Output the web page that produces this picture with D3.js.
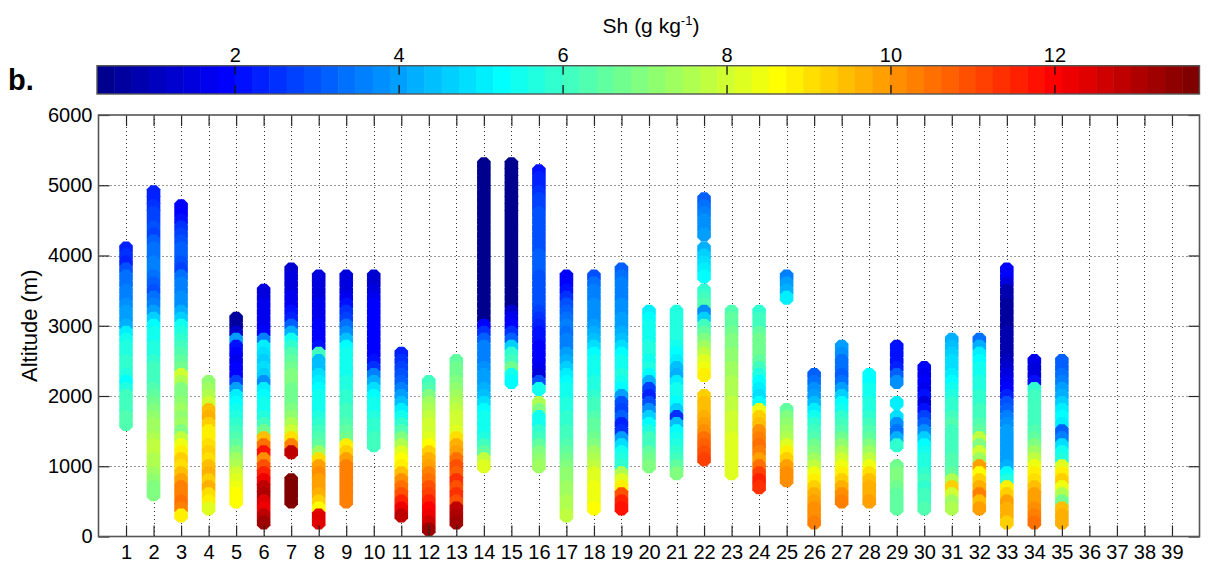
<!DOCTYPE html>
<html>
<head>
<meta charset="utf-8">
<script src="https://d3js.org/d3.v7.min.js"></script>
<style>
	body { margin: 0; background: #fff; }
	svg text { font-family: Arial, "Liberation Sans", Helvetica, sans-serif; fill: #000; }
</style>
</head>
<body>
<svg id="chart" width="1216" height="564"></svg>
<script>
// profile numbers on the x axis and the top level of each sounding (m)
var profileIds = d3.range(1, 36);
var profileTops = [4100, 4900, 4700, 2200, 3100, 3500, 3800, 3700, 3700, 3700,
	2600, 2200, 2500, 5300, 5300, 5200, 3700, 3700, 3800, 3200,
	3200, 4800, 3200, 3200, 3700, 2300, 2700, 2300, 2700, 2400,
	2800, 2800, 3800, 2500, 2500];
var levelStep = 100; // m between sounding levels, top -> bottom

// specific humidity (g/kg) per profile, from top level downwards, null = no data
var shProfiles = [
	[2.4, 2.5,
	 2.4, 3.0, 3.3, 3.4, 3.5, 3.6, 3.7, 3.9, 4.1, 4.3,
	 5.0, 5.5, 5.6, 5.7, 5.8, 5.8, 5.6, 5.3, 5.7, 6.0,
	 6.1, 6.2, 6.3, 6.3],
	[2.3, 2.4, 2.5, 2.7, 2.8, 2.9, 2.8, 3.2, 3.3, 3.4,
	 3.5, 3.6, 3.4, 3.2, 2.9, 3.3, 3.6, 3.9, 4.6, 5.2,
	 5.4, 5.5, 5.6, 5.7, 5.9, 6.0, 6.1, 6.2, 6.3, 6.5,
	 6.8, 7.0, 7.2, 7.3, 7.4, 7.6, 7.7, 7.7, 7.6, 7.5,
	 7.3, 7.1, 7.0, 6.9],
	[1.9, 1.8, 2.1, 2.5, 2.7, 2.9, 3.1, 3.2,
	 3.0, 2.7, 3.3, 3.5, 3.6, 3.7, 3.8, 4.2, 4.6, 5.4,
	 5.7, 5.9, 6.0, 6.3, 6.5, 6.8, 7.9, 7.6, 7.0, 6.9,
	 7.2, 7.4, 7.1, 7.4, 6.9, 7.7, 8.5, 8.8, 9.3, 9.0,
	 9.5, 9.8, 10.2, 10.4, 10.5, 10.4, 8.8],
	[7.2, 7.4, 7.6,
	 8.0, 9.4, 9.6, 9.2, 8.9, 8.8, 9.0, 9.2, 9.0, 9.4,
	 9.6, 9.3, 9.6, 9.1, 8.8, 8.2],
	[0.6, 0.7,
	 1.2, 4.0, 2.2, 1.8, 1.7, 1.8, 2.0, 2.8, 4.0, 5.0,
	 5.3, 5.4, 5.6, 5.9, 6.1, 6.3, 6.6, 7.0, 7.3, 7.5,
	 8.0, 8.3, 8.5, 8.6, 8.7],
	[1.5, 1.5, 1.6, 1.6, 1.6, 1.7,
	 2.0, 3.5, 5.0, 4.8, 4.7, 4.8, 4.6, 3.8, 5.0, 5.3,
	 5.4, 5.5, 5.7, 6.2, 6.8, 9.5, 10.5, 11.8, 10.0, 11.0,
	 11.5, 12.2, 12.9, 13.1, 12.5, 12.1, 12.8, 13.2],
	[1.3, 1.4, 1.5, 1.5, 1.6, 1.7, 2.1, 2.4, 3.1,
	 4.2, 5.4, 5.9, 6.4, 6.6, 6.8, 7.0, 6.9, 6.8, 6.7,
	 6.8, 7.0, 7.2, 7.5, 8.0, 9.0, 10.2, 12.8, null, null,
	 null, 13.6, 13.7, 13.7, 13.6],
	[1.4, 1.5, 1.5, 1.5, 1.6, 1.7, 1.7, 1.8,
	 1.8, 1.9, 2.1, 6.0, 4.4, 4.5, 4.8, 5.0, 5.2, 5.4,
	 5.4, 5.5, 5.7, 5.8, 6.0, 6.3, 6.6, 7.3, 9.0, 9.8,
	 10.0, 9.9, 9.8, 9.6, 9.2, 8.7, 12.3, 12.5],
	[1.4, 1.4, 1.5, 1.6, 2.2, 2.6, 2.8, 3.3,
	 3.8, 4.4, 5.2, 5.4, 5.4, 5.5, 5.5, 5.6, 5.7, 5.8,
	 5.9, 6.0, 6.2, 6.4, 6.6, 6.8, 8.8, 9.3, 9.8, 10.2,
	 10.3, 10.4, 10.4, 10.3, 10.4],
	[1.3, 1.3, 1.4, 1.6, 1.9, 2.0, 2.0, 2.0,
	 2.0, 2.0, 2.0, 2.0, 2.1, 2.5, 3.5, 4.3, 4.8, 5.2,
	 5.4, 5.5, 5.7, 5.8, 5.9, 6.0, 6.0],
	[2.4, 2.6, 2.8, 3.0, 3.2, 3.6, 4.0,
	 4.5, 5.0, 5.4, 5.8, 6.3, 7.0, 7.6, 8.2, 8.6, 8.8,
	 9.5, 10.0, 10.5, 11.0, 11.6, 12.2, 12.9],
	[6.2, 6.4, 7.0,
	 7.3, 7.6, 7.8, 7.9, 8.0, 8.2, 8.7, 9.3, 9.6, 9.8,
	 10.3, 10.6, 10.9, 11.2, 11.6, 11.9, 12.1, 12.7, 13.2],
	[6.6, 6.7, 6.8, 6.9, 7.2, 7.4,
	 7.6, 7.8, 7.9, 8.0, 8.2, 9.0, 9.6, 9.8, 10.6, 11.0,
	 10.8, 11.3, 10.9, 11.4, 11.0, 12.9, 13.1, 13.2],
	[0.5, 0.5, 0.5, 0.5,
	 0.5, 0.5, 0.5, 0.5, 0.5, 0.5, 0.5, 0.5, 0.5, 0.5,
	 0.5, 0.5, 0.5, 0.5, 0.5, 0.5, 0.5, 0.5, 0.5, 1.8,
	 2.6, 3.2, 3.5, 3.6, 3.6, 3.7, 3.9, 4.1, 4.3, 4.5,
	 4.8, 5.2, 5.4, 5.4, 5.5, 5.6, 6.2, 6.6, 7.8, 8.3],
	[0.5, 0.5, 0.5, 0.5,
	 0.5, 0.5, 0.5, 0.5, 0.5, 0.5, 0.5, 0.5, 0.5, 0.5,
	 0.5, 0.5, 0.5, 0.5, 0.5, 0.5, 0.5, 1.2, 1.6, 2.0,
	 2.6, 3.2, 4.6, 5.8, 6.0, 6.8, 5.4, 5.3],
	[2.1, 2.3, 2.4,
	 2.6, 2.7, 2.8, 2.9, 2.9, 3.0, 3.0, 3.0, 3.0, 3.1,
	 3.1, 3.1, 3.0, 3.0, 3.0, 2.9, 2.9, 2.8, 2.6, 2.4,
	 2.2, 2.1, 2.0, 2.0, 1.9, 1.6, 1.5, 3.0, 5.4, null,
	 7.6, 7.0, 5.4, 5.5, 5.8, 6.1, 6.6, 6.9, 7.2, 7.4],
	[2.0, 1.9, 2.1, 2.6, 2.9, 3.1, 3.3, 3.5,
	 3.4, 3.6, 3.5, 3.9, 4.3, 4.6, 5.0, 5.3, 5.4, 5.5,
	 5.6, 5.7, 5.8, 5.9, 6.0, 6.2, 6.4, 6.6, 6.8, 7.0,
	 7.1, 7.2, 7.3, 7.4, 7.5, 7.6, 7.7],
	[3.0, 3.4, 3.6, 3.6, 3.7, 3.7, 3.8, 3.9,
	 4.2, 4.5, 4.9, 5.3, 5.4, 5.4, 5.5, 5.6, 5.7, 5.9,
	 6.1, 6.2, 6.4, 6.5, 6.6, 6.8, 7.0, 7.3, 7.5, 7.8,
	 8.1, 8.3, 8.4, 8.5, 8.5, 8.6],
	[3.1, 3.3, 3.5, 3.6, 3.6, 3.7, 3.8, 3.9, 4.0,
	 4.2, 4.5, 4.9, 5.2, 5.4, 5.5, 5.6, 5.5, 5.3, 4.0,
	 3.0, 2.8, 3.2, 2.4, 2.6, 4.0, 4.8, 5.4, 5.6, 5.8,
	 7.6, 8.2, 8.8, 11.0, 11.5, 11.8],
	[5.0, 5.3, 5.4,
	 5.4, 5.5, 5.6, 5.6, 5.5, 5.7, 5.3, 4.2, 2.8, 2.4,
	 2.9, 3.8, 4.6, 5.3, 5.7, 6.0, 6.2, 6.5, 6.8, 7.0],
	[5.6, 5.7, 5.7,
	 5.6, 5.6, 5.5, 5.3, 5.0, 4.5, 4.2, 5.0, 5.4, 5.5,
	 5.3, 4.6, 2.6, 4.5, 5.3, 5.5, 5.7, 5.9, 6.2, 6.6,
	 6.9],
	[3.2, 3.4, 3.6, 3.7, 3.8, 4.0, null, 4.3, 4.6,
	 4.8, 5.0, 5.3, null, 5.8, 6.1, 6.3, 3.8, 4.6, 6.2,
	 6.6, 7.0, 7.4, 7.8, 8.1, 8.5, 8.8, null, null, 9.2,
	 9.4, 9.5, 9.7, 9.9, 10.1, 10.5, 10.8, 11.0, 11.1],
	[6.4, 6.5, 6.6,
	 6.7, 6.9, 7.0, 7.1, 7.2, 7.3, 7.4, 7.5, 7.6, 7.6,
	 7.7, 7.8, 7.9, 8.0, 8.0, 8.1, 8.2, 8.2, 8.3, 8.3,
	 8.3],
	[5.9, 6.0, 6.2,
	 6.5, 6.7, 6.8, 6.7, 6.5, 6.0, 5.6, 5.3, 5.0, 4.8,
	 5.2, 8.5, 9.2, 9.5, 10.0, 10.3, 10.5, 10.2, 9.8, 10.5,
	 11.2, 11.6, 11.3],
	[3.5, 3.9, 4.3, 5.0, null, null, null, null,
	 null, null, null, null, null, null, null, null, null, null,
	 null, 6.6, 6.9, 7.2, 7.4, 7.6, 8.2, 8.8, 9.2, 9.8,
	 10.0, 10.1],
	[3.2, 3.4, 3.7, 4.0,
	 4.5, 5.0, 5.5, 5.8, 6.0, 6.4, 6.7, 7.0, 7.3, 7.7,
	 8.4, 8.8, 9.3, 9.6, 9.8, 10.0, 10.1, 10.2],
	[4.0, 3.7, 3.4, 3.3, 3.2, 3.4, 4.0, 4.6,
	 5.2, 5.5, 5.8, 6.1, 6.4, 6.7, 7.2, 7.6, 8.0, 8.4,
	 8.8, 9.2, 9.6, 10.0, 10.3],
	[5.2, 5.3, 5.4, 5.5,
	 5.6, 5.7, 5.8, 6.0, 6.3, 6.6, 7.0, 7.4, 7.8, 8.5,
	 9.0, 9.4, 9.6, 9.7, 9.8],
	[2.2, 2.2, 2.1, 2.4, 3.2, 3.8, null, null,
	 5.0, null, 4.8, 3.8, 3.3, 4.2, 5.8, null, null, 6.8,
	 6.9, 7.0, 6.8, 6.6, 6.5, 6.6],
	[2.0, 1.6, 1.9, 1.7, 2.2,
	 1.5, 2.2, 2.8, 3.2, 3.8, 4.6, 5.3, 5.5, 5.6, 5.7,
	 5.9, 6.0, 5.8, 6.1, 6.2, 6.3],
	[4.3, 4.4, 4.6, 4.8, 4.9, 5.0, 5.2, 5.4, 5.6,
	 5.8, 5.9, 6.0, 6.3, 6.0, 6.1, 6.2, 6.2, 6.3, 6.4,
	 6.5, 7.5, 9.2, 8.0, 7.4, 7.6],
	[3.4, 4.3, 5.0, 5.3, 5.4, 5.5, 5.6, 5.7, 5.8,
	 5.9, 6.0, 6.1, 6.3, 6.6, 7.8, 7.0, 8.0, 7.4, 9.8,
	 8.6, 9.2, 9.6, 10.2, 9.5, 9.8],
	[2.0, 1.9, 1.5, 0.9, 0.8, 0.7, 0.7, 0.7, 0.7,
	 0.8, 0.8, 0.8, 0.9, 1.0, 1.2, 1.4, 1.6, 1.8, 2.3,
	 3.0, 3.2, 3.5, 3.8, 3.9, 4.0, 4.1, 4.0, 4.1, 4.3,
	 5.3, 5.6, 8.8, 9.3, 9.8, 9.7, 9.6, 9.3],
	[1.6, 1.5, 1.5, 2.2, 5.8, 6.0,
	 6.0, 6.1, 6.1, 6.2, 6.3, 6.6, 7.0, 7.4, 7.8, 8.5,
	 8.8, 9.0, 9.5, 9.8, 9.9, 10.1, 10.3, 10.5],
	[3.2, 3.1, 3.3, 3.6, 3.9, 4.2,
	 4.6, 5.0, 5.3, 5.0, 3.2, 3.6, 4.8, 5.4, 5.6, 8.3,
	 8.8, 9.2, 8.4, 7.5, 6.8, 9.4, 9.7, 9.6]
];

var xTicks = d3.range(1, 40);
var yTicks = [0, 1000, 2000, 3000, 4000, 5000, 6000];
var cbarTicks = [2, 4, 6, 8, 10, 12];
var cmin = 0.32, cmax = 13.77; // colour limits

// MATLAB style jet colormap with m entries
function jet(m) {
	var n = Math.ceil(m / 4), u = [], J = [], i;
	for (i = 1; i <= n; i++) u.push(i / n);
	for (i = 1; i < n; i++) u.push(1);
	for (i = n; i >= 1; i--) u.push(i / n);
	var off = Math.ceil(n / 2) - (m % 4 == 1 ? 1 : 0);
	for (i = 0; i < m; i++) J.push([0, 0, 0]);
	u.forEach(function(v, k) {
		var g = off + k + 1, r = g + n, b = g - n;
		if (r <= m) J[r - 1][0] = v;
		if (g <= m) J[g - 1][1] = v;
		if (b >= 1) J[b - 1][2] = v;
	});
	return J.map(function(d) { return d3.rgb(d[0] * 255, d[1] * 255, d[2] * 255).formatHex(); });
}

var cmap = jet(64);
var color = d3.scaleQuantize().domain([cmin, cmax]).range(cmap);

var svg = d3.select("#chart");
var pLeft = 98.5, pRight = 1199.5, pTop = 115, pBottom = 536.5;

var x = d3.scaleLinear().domain([0, 40]).range([pLeft, pRight]);
var y = d3.scaleLinear().domain([0, 6000]).range([pBottom, pTop]);
var c = d3.scaleLinear().domain([cmin, cmax]).range([97, 1199.5]);

// grid
var grid = svg.append("g")
	.attr("stroke", "#333")
	.attr("stroke-width", 1)
	.attr("stroke-dasharray", "1,3");
grid.selectAll(".gx").data(xTicks).enter().append("line")
	.attr("x1", function(d) { return Math.round(x(d)) + 0.5; })
	.attr("x2", function(d) { return Math.round(x(d)) + 0.5; })
	.attr("y1", pTop).attr("y2", pBottom);
grid.selectAll(".gy").data(yTicks.slice(1, -1)).enter().append("line")
	.attr("y1", function(d) { return Math.round(y(d)) + 0.5; })
	.attr("y2", function(d) { return Math.round(y(d)) + 0.5; })
	.attr("x1", pLeft).attr("x2", pRight);

// soundings
var points = [];
shProfiles.forEach(function(vals, i) {
	vals.forEach(function(v, k) {
		if (v === null) return;
		points.push({ id: profileIds[i], alt: profileTops[i] - k * levelStep, sh: v });
	});
});

// filled marker, an octagon so stacked levels give straight column edges
var marker = "M-2.8,-7L2.8,-7L6.8,-3L6.8,3L2.8,7L-2.8,7L-6.8,3L-6.8,-3Z";

svg.append("g").selectAll("path")
	.data(points)
	.enter().append("path")
	.attr("d", marker)
	.attr("transform", function(d) { return "translate(" + x(d.id) + "," + y(d.alt) + ")"; })
	.attr("fill", function(d) { return color(d.sh); });

// axes, ticks pointing inwards
var fs = "20px";
var gx = svg.append("g")
	.attr("transform", "translate(0," + pBottom + ")")
	.call(d3.axisBottom(x).tickValues(xTicks).tickSizeInner(-11).tickSizeOuter(0).tickPadding(8));
var gy = svg.append("g")
	.attr("transform", "translate(" + pLeft + ",0)")
	.call(d3.axisLeft(y).tickValues(yTicks).tickFormat(d3.format("d")).tickSizeInner(-11).tickSizeOuter(0).tickPadding(6));
var gt = svg.append("g")
	.attr("transform", "translate(0," + pTop + ")")
	.call(d3.axisTop(x).tickValues(xTicks).tickSizeInner(-11).tickSizeOuter(0).tickFormat(""));
var gr = svg.append("g")
	.attr("transform", "translate(" + pRight + ",0)")
	.call(d3.axisRight(y).tickValues(yTicks).tickSizeInner(-11).tickSizeOuter(0).tickFormat(""));

[gx, gy, gt, gr].forEach(function(g) {
	g.select(".domain").remove();
	g.selectAll("line").attr("stroke", "#262626").attr("stroke-width", 1.2);
	g.selectAll("text").style("font-size", fs).style("font-family", null).attr("fill", "#000");
});

svg.append("rect")
	.attr("x", pLeft).attr("y", pTop)
	.attr("width", pRight - pLeft).attr("height", pBottom - pTop)
	.attr("fill", "none")
	.attr("stroke", "#555")
	.attr("stroke-width", 1.6);

svg.append("text")
	.attr("transform", "translate(37," + (pTop + pBottom) / 2 + ") rotate(-90)")
	.attr("text-anchor", "middle")
	.style("font-size", "22px")
	.text("Altitude (m)");

// colour bar
var cbTop = 65.7, cbH = 28.3;
var step = (cmax - cmin) / cmap.length;
svg.append("g").selectAll("rect")
	.data(cmap)
	.enter().append("rect")
	.attr("x", function(d, i) { return c(cmin + i * step); })
	.attr("width", function(d, i) { return c(cmin + (i + 1) * step) - c(cmin + i * step) + 0.5; })
	.attr("y", cbTop)
	.attr("height", cbH)
	.attr("fill", function(d) { return d; });

var cb = svg.append("g")
	.attr("transform", "translate(0," + cbTop + ")")
	.call(d3.axisTop(c).tickValues(cbarTicks).tickSizeInner(-9).tickSizeOuter(0).tickPadding(4));
var cbb = svg.append("g")
	.attr("transform", "translate(0," + (cbTop + cbH) + ")")
	.call(d3.axisBottom(c).tickValues(cbarTicks).tickSizeInner(-9).tickSizeOuter(0).tickFormat(""));
[cb, cbb].forEach(function(g) {
	g.select(".domain").remove();
	g.selectAll("line").attr("stroke", "#111").attr("stroke-width", 1.3);
	g.selectAll("text").style("font-size", fs).style("font-family", null).attr("fill", "#000");
});

svg.append("rect")
	.attr("x", 97).attr("y", cbTop)
	.attr("width", 1199.5 - 97).attr("height", cbH)
	.attr("fill", "none")
	.attr("stroke", "#555")
	.attr("stroke-width", 1.4);

var title = svg.append("text")
	.attr("x", 651).attr("y", 33)
	.attr("text-anchor", "middle")
	.style("font-size", "21px");
title.append("tspan").text("Sh (g kg");
title.append("tspan").attr("dy", -8).style("font-size", "13px").text("-1");
title.append("tspan").attr("dy", 8).text(")");

svg.append("text")
	.attr("x", 8).attr("y", 90)
	.style("font-size", "29px")
	.style("font-weight", "bold")
	.text("b.");
</script>
</body>
</html>
